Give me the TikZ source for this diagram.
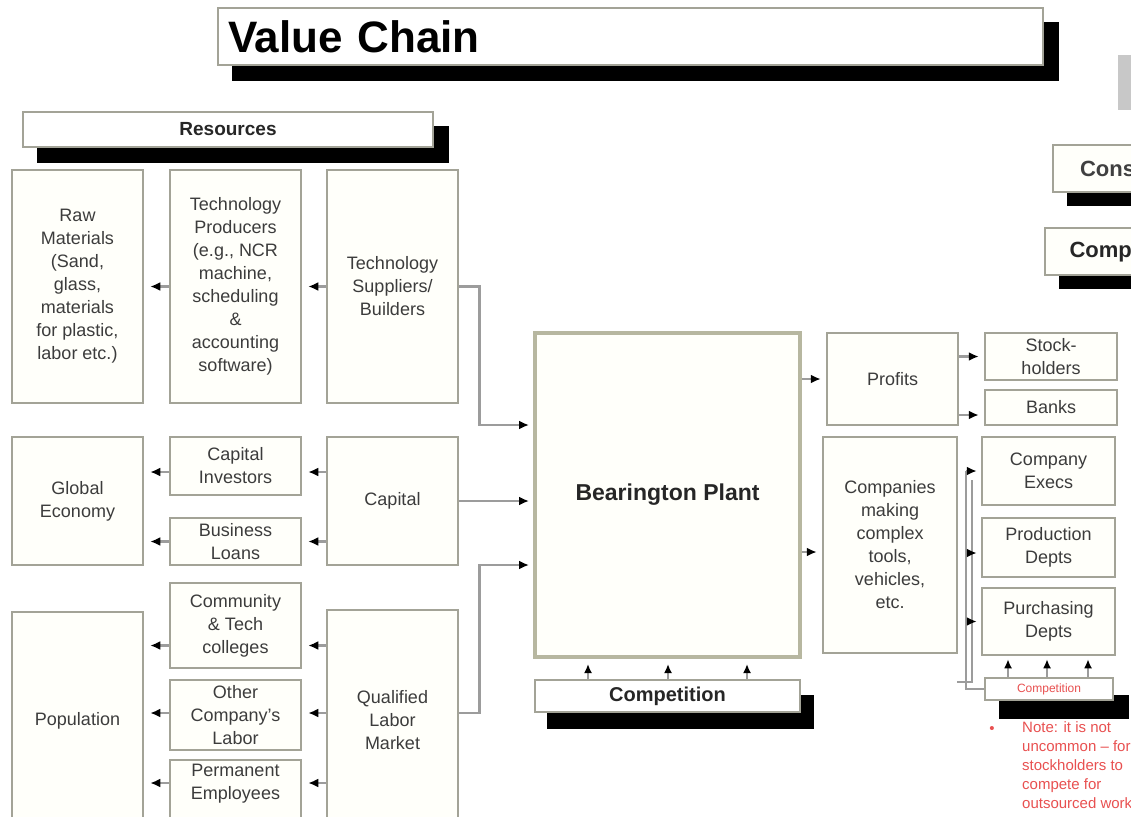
\documentclass[tikz,border=0pt]{standalone}
\usepackage{fontspec}
\setmainfont{Liberation Sans}
\usetikzlibrary{arrows.meta,calc}
\definecolor{boxline}{HTML}{A3A397}
\definecolor{plantline}{HTML}{B7B7A0}
\definecolor{boxfill}{HTML}{FFFFFA}
\definecolor{boxtext}{HTML}{3C3C3C}
\definecolor{linegray}{HTML}{9C9C9C}
\definecolor{notered}{HTML}{E85050}
\definecolor{barfill}{HTML}{C8C8C8}
\pgfdeclarelayer{bg}
\pgfsetlayers{bg,main}
% black block shadow behind a named box
\newcommand\dropshade[3]{%
  \begin{pgfonlayer}{bg}
    \fill[black] ($(#1.north west)+(#2,#3)$) rectangle ($(#1.south east)+(#2,#3)$);
  \end{pgfonlayer}}
\begin{document}
\begin{tikzpicture}[x=1pt,y=-1pt,
  box/.style={draw=boxline, line width=2.5pt, fill=boxfill, text=boxtext,
    font=\fontsize{18}{23}\selectfont, align=center, inner sep=0pt},
  plantbox/.style={box, draw=plantline, line width=4pt,
    font=\bfseries\fontsize{23}{28}\selectfont, text=black!85},
  headbox/.style={box, draw=boxline, line width=2.5pt, fill=white,
    font=\bfseries\fontsize{19}{23}\selectfont, text=black!85},
  titlebox/.style={box, line width=2.5pt, fill=white,
    font=\bfseries\fontsize{44}{50}\selectfont, text=black, align=left},
  conn/.style={draw=linegray, line width=2.5pt},
  arr/.style={conn, -{Latex[length=10pt,width=9pt,color=black]}},
  sarr/.style={conn, -{Latex[length=9pt,width=8pt,color=black]}}
]
\useasboundingbox (0,0) rectangle (1131,816);
\begin{scope}
\clip (0,0) rectangle (1131,816);

% ---------- headings ----------
\node[titlebox, minimum width=825pt, minimum height=57pt, text width=805pt]
  (title) at (630.5,36.5) {Value Chain};
\dropshade{title}{15}{15}
\node[headbox, minimum width=410pt, minimum height=35pt] (res) at (228,129.5) {Resources};
\dropshade{res}{15}{15}
\fill[barfill] (1118,55) rectangle (1131,110);
\node[headbox, fill=boxfill, font=\bfseries\fontsize{22}{26}\selectfont, text=black!75,
  minimum width=147pt, minimum height=47pt, text width=93pt, align=left]
  (con1) at (1126.5,168.5) {Consumers};
\dropshade{con1}{15}{13}
\node[headbox, fill=boxfill, font=\bfseries\fontsize{22}{26}\selectfont, text=black!85,
  minimum width=155pt, minimum height=47pt, text width=106pt, align=left]
  (con2) at (1122.5,251.5) {Competitors};
\dropshade{con2}{15}{13}

% ---------- resources, row 1 ----------
\node[box, minimum width=131pt, minimum height=233pt] (raw) at (77.5,286.5)
  {Raw\\Materials\\(Sand,\\glass,\\materials\\for plastic,\\labor etc.)};
\node[box, minimum width=131pt, minimum height=233pt] (techprod) at (235.5,286.5)
  {Technology\\Producers\\(e.g., NCR\\machine,\\scheduling\\\&\\accounting\\software)};
\node[box, minimum width=131pt, minimum height=233pt] (techsup) at (392.5,286.5)
  {Technology\\Suppliers/\\Builders};

% ---------- row 2 ----------
\node[box, minimum width=131pt, minimum height=128pt] (global) at (77.5,501)
  {Global\\Economy};
\node[box, minimum width=131pt, minimum height=58pt] (capinv) at (235.5,466)
  {Capital\\Investors};
\node[box, minimum width=131pt, minimum height=47pt] (loans) at (235.5,541.5)
  {Business\\Loans};
\node[box, minimum width=131pt, minimum height=128pt] (capital) at (392.5,501)
  {Capital};

% ---------- row 3 ----------
\node[box, minimum width=131pt, minimum height=218pt] (pop) at (77.5,721)
  {Population};
\node[box, minimum width=131pt, minimum height=85pt] (colleges) at (235.5,625.5)
  {Community\\\& Tech\\colleges};
\node[box, minimum width=131pt, minimum height=70pt] (otherlab) at (235.5,715)
  {Other\\Company's\\Labor};
\node[box, minimum width=131pt, minimum height=80pt, text depth=0pt] (perm) at (235.5,800)
  {Permanent\\Employees\\[14pt]};
\node[box, minimum width=131pt, minimum height=220pt] (labor) at (392.5,720)
  {Qualified\\Labor\\Market};

% ---------- plant and competition ----------
\node[plantbox, minimum width=265pt, minimum height=324pt] (plant) at (667.5,495)
  {Bearington Plant};
\node[headbox, font=\bfseries\fontsize{20}{24}\selectfont, fill=white,
  minimum width=265pt, minimum height=32pt] (comp) at (667.5,696) {Competition};
\dropshade{comp}{13}{16}

% ---------- outputs ----------
\node[box, minimum width=131pt, minimum height=92pt] (profits) at (892.5,379) {Profits};
\node[box, minimum width=134pt, minimum height=216pt] (makers) at (890,545)
  {Companies\\making\\complex\\tools,\\vehicles,\\etc.};
\node[box, minimum width=132pt, minimum height=47pt] (stock) at (1051,356.5)
  {Stock-\\holders};
\node[box, minimum width=132pt, minimum height=35pt] (banks) at (1051,407.5) {Banks};
\node[box, minimum width=133pt, minimum height=68pt] (execs) at (1048.5,471)
  {Company\\Execs};
\node[box, minimum width=133pt, minimum height=59pt] (prod) at (1048.5,547.5)
  {Production\\Depts};
\node[box, minimum width=133pt, minimum height=67pt] (purch) at (1048.5,621.5)
  {Purchasing\\Depts};
\node[box, fill=white, text=notered, font=\fontsize{12}{14}\selectfont,
  minimum width=128pt, minimum height=22pt] (smallcomp) at (1049,689) {Competition};
\dropshade{smallcomp}{15}{18}

% ---------- note ----------
\node[text=notered, font=\fontsize{15}{19}\selectfont] (bullet) at (992,730) {•};
\node[text=notered, font=\fontsize{15}{19}\selectfont, anchor=north west, align=left,
  inner sep=0pt] (note) at (1022,721)
  {Note: it is not\\uncommon -- for\\stockholders to\\compete for\\outsourced work};

% ---------- connectors: resources ----------
\draw[arr, shorten >=6pt] (techprod.west) -- (raw.east);
\draw[arr, shorten >=6pt] (techsup.west) -- (techprod.east);
\draw[arr, shorten >=6pt] (capinv.west |- 0,472) -- (global.east |- 0,472);
\draw[arr, shorten >=6pt] (loans.west) -- (global.east |- loans.west);
\draw[arr, shorten >=6pt] (capital.west |- 0,472) -- (capinv.east |- 0,472);
\draw[arr, shorten >=6pt] (capital.west |- loans.west) -- (loans.east);
\draw[arr, shorten >=6pt] ($(colleges.west)+(0,20)$) -- (pop.east |- 0,645.5);
\draw[arr, shorten >=6pt] (otherlab.west |- 0,713) -- (pop.east |- 0,713);
\draw[arr, shorten >=6pt] ($(perm.west)+(0,-17)$) -- (pop.east |- 0,783);
\draw[arr, shorten >=6pt] (labor.west |- 0,645.5) -- ($(colleges.east)+(0,20)$);
\draw[arr, shorten >=6pt] (labor.west |- 0,713) -- (otherlab.east |- 0,713);
\draw[arr, shorten >=6pt] (labor.west |- 0,783) -- ($(perm.east)+(0,-17)$);

% ---------- connectors into the plant ----------
\draw[arr, shorten >=4pt] (techsup.east) -- ++(20,0) |- ($(plant.west)+(0,-70)$);
\draw[arr, shorten >=4pt] (capital.east) -- (capital.east -| plant.west);
\draw[arr, shorten >=4pt] (labor.east |- 0,713) -- ++(20,0) |- ($(plant.west)+(0,70)$);
\foreach \x in {588,668,747}
  \draw[sarr, shorten >=5pt] (comp.north -| \x,0) -- (plant.south -| \x,0);

% ---------- connectors out of the plant ----------
\draw[arr, shorten >=5pt] (plant.east |- profits.west) -- (profits.west);
\draw[arr, shorten >=5pt] (plant.east |- 0,552) -- (makers.west |- 0,552);
\draw[arr, shorten >=5pt] (profits.east |- stock.west) -- (stock.west);
\draw[arr, shorten >=5pt] (profits.east |- 0,415) -- (banks.west |- 0,415);

% bus from the small competition box up past the departments
\coordinate (bustop) at (966,471);
\coordinate (busbot) at (966,689);
\draw[conn] (smallcomp.west) -- (busbot) -- (bustop);
\draw[conn, line width=2pt] (972,480) -- (972,682) -- (957,682);
\draw[arr, shorten >=4pt] (bustop) -- (execs.west);
\draw[arr, shorten >=4pt] (bustop |- 0,553) -- (prod.west |- 0,553);
\draw[arr, shorten >=4pt] (bustop |- purch.west) -- (purch.west);
\foreach \x in {1008,1047,1088}
  \draw[sarr, shorten >=3pt] (smallcomp.north -| \x,0) -- (purch.south -| \x,0);
\end{scope}
\end{tikzpicture}
\end{document}
